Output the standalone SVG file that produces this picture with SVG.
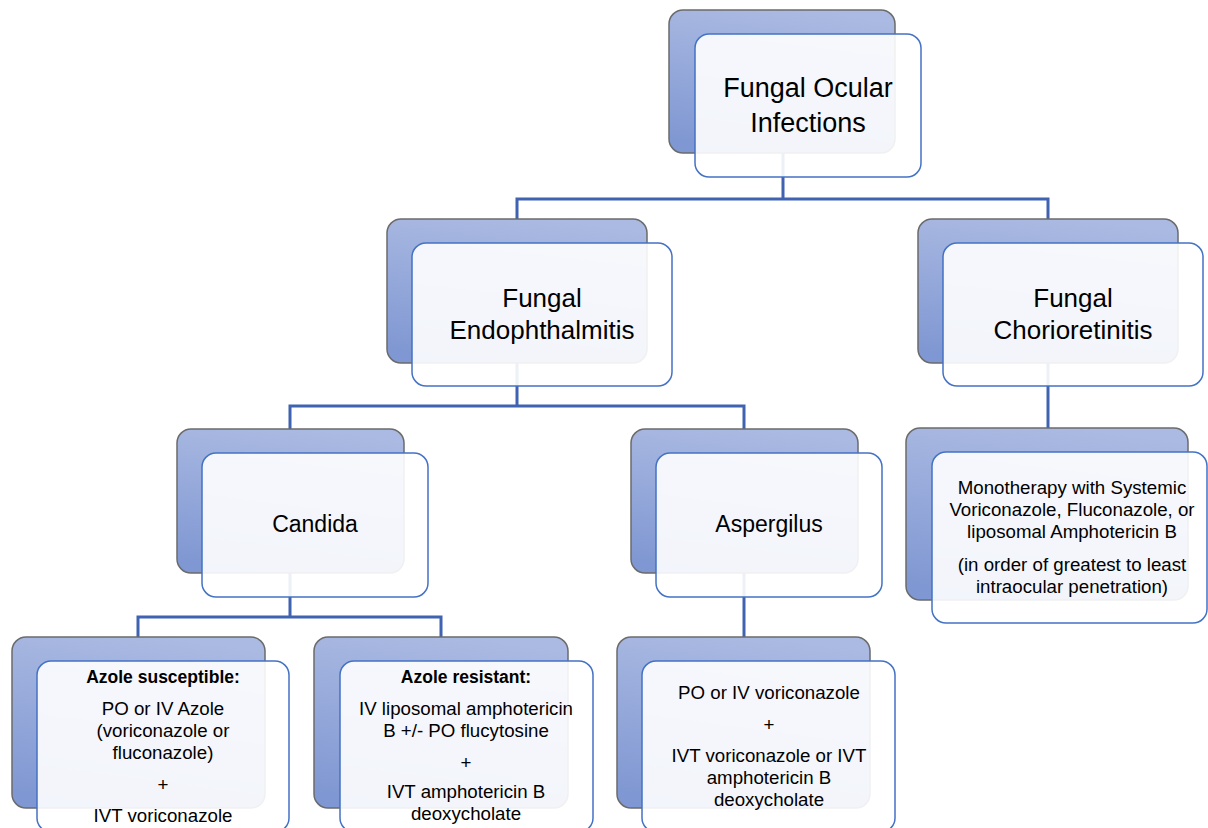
<svg xmlns="http://www.w3.org/2000/svg" width="1208" height="828" viewBox="0 0 1208 828">
<style>
.back{fill:url(#bg);stroke:#6b6b6b;stroke-width:1.5}
.front{fill:#ffffff;fill-opacity:0.9;stroke:#4472c4;stroke-width:1.5}
.conn{fill:none;stroke:#3f63b0;stroke-width:3}
text{font-family:"Liberation Sans",Arial,sans-serif;fill:#000;text-anchor:middle}
.t1{font-size:27px}
.t2{font-size:26px}
.t3{font-size:23px}
.s{font-size:18.7px}
.b{font-weight:bold;font-size:17.5px}
</style>
<defs>
<linearGradient id="bg" x1="0.6" y1="0" x2="0.4" y2="1">
<stop offset="0" stop-color="#abbae2"/>
<stop offset="1" stop-color="#7f97d2"/>
</linearGradient>
</defs>
<g id="connectors">
<path class="conn" d="M783,153 V199 M517,219 V199 H1048 V219"/>
<path class="conn" d="M517,363 V406 M290,429 V406 H744 V429"/>
<path class="conn" d="M1048,363 V428"/>
<path class="conn" d="M290,573 V617 M138,637 V617 H441 V637"/>
<path class="conn" d="M744,573 V637"/>
</g>
<g id="n-root">
<rect class="back" x="669" y="10" width="226" height="143" rx="14"/>
<rect class="front" x="695" y="34" width="226" height="143" rx="14"/>
<text class="t1" x="808" y="97">Fungal Ocular</text>
<text class="t1" x="808" y="132">Infections</text>
</g>
<g id="n-endo">
<rect class="back" x="387" y="219" width="260" height="144" rx="14"/>
<rect class="front" x="412" y="243" width="260" height="143" rx="14"/>
<text class="t2" x="542" y="307">Fungal</text>
<text class="t2" x="542" y="339">Endophthalmitis</text>
</g>
<g id="n-chorio">
<rect class="back" x="918" y="219" width="260" height="144" rx="14"/>
<rect class="front" x="943" y="243" width="260" height="143" rx="14"/>
<text class="t2" x="1073" y="307">Fungal</text>
<text class="t2" x="1073" y="339">Chorioretinitis</text>
</g>
<g id="n-candida">
<rect class="back" x="177" y="429" width="227" height="144" rx="14"/>
<rect class="front" x="202" y="453" width="226" height="144" rx="14"/>
<text class="t3" x="315" y="532">Candida</text>
</g>
<g id="n-aspergilus">
<rect class="back" x="631" y="429" width="227" height="144" rx="14"/>
<rect class="front" x="656" y="453" width="226" height="144" rx="14"/>
<text class="t3" x="769" y="532">Aspergilus</text>
</g>
<g id="n-mono">
<rect class="back" x="906" y="428" width="282" height="172" rx="14"/>
<rect class="front" x="932" y="452" width="275" height="171" rx="14"/>
<text class="s" x="1072" y="494">Monotherapy with Systemic</text>
<text class="s" x="1072" y="516">Voriconazole, Fluconazole, or</text>
<text class="s" x="1072" y="538">liposomal Amphotericin B</text>
<text class="s" x="1072" y="571">(in order of greatest to least</text>
<text class="s" x="1072" y="593">intraocular penetration)</text>
</g>
<g id="n-susceptible">
<rect class="back" x="12" y="637" width="253" height="171" rx="14"/>
<rect class="front" x="37" y="661" width="252" height="171" rx="14"/>
<text class="b" x="163" y="683">Azole susceptible:</text>
<text class="s" x="163" y="715">PO or IV Azole</text>
<text class="s" x="163" y="737">(voriconazole or</text>
<text class="s" x="163" y="759">fluconazole)</text>
<text class="s" x="163" y="791">+</text>
<text class="s" x="163" y="822">IVT voriconazole</text>
</g>
<g id="n-resistant">
<rect class="back" x="314" y="637" width="254" height="171" rx="14"/>
<rect class="front" x="340" y="661" width="253" height="171" rx="14"/>
<text class="b" x="466" y="683">Azole resistant:</text>
<text class="s" x="466" y="715">IV liposomal amphotericin</text>
<text class="s" x="466" y="737">B +/- PO flucytosine</text>
<text class="s" x="466" y="769">+</text>
<text class="s" x="466" y="798">IVT amphotericin B</text>
<text class="s" x="466" y="820">deoxycholate</text>
</g>
<g id="n-asper-tx">
<rect class="back" x="617" y="637" width="253" height="171" rx="14"/>
<rect class="front" x="642" y="661" width="253" height="171" rx="14"/>
<text class="s" x="769" y="699">PO or IV voriconazole</text>
<text class="s" x="769" y="731">+</text>
<text class="s" x="769" y="762">IVT voriconazole or IVT</text>
<text class="s" x="769" y="784">amphotericin B</text>
<text class="s" x="769" y="806">deoxycholate</text>
</g>
</svg>
